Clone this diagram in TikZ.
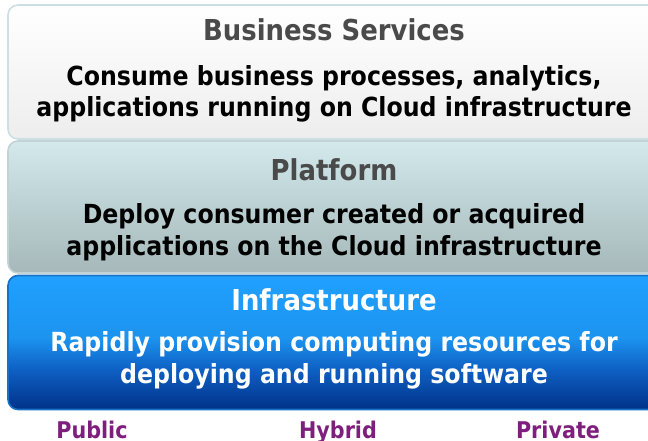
\documentclass[tikz,border=0pt]{standalone}
\usepackage{fontspec}
\setmainfont{DejaVu Sans}[FakeStretch=0.9]
\definecolor{headgray}{HTML}{4A4A4A}
\definecolor{labpurple}{HTML}{7E1F7E}
\definecolor{topedge}{HTML}{CCDFE2}
\definecolor{midedge}{HTML}{C2D3D5}
\definecolor{botedge}{HTML}{1672C4}
\pgfdeclareverticalshading{bizshade}{100bp}{color(0bp)=(white!93!black); color(25bp)=(white!93!black); color(75bp)=(white); color(100bp)=(white)}
\pgfdeclareverticalshading{platshade}{100bp}{color(0bp)=(rgb,255:red,166;green,184;blue,185); color(25bp)=(rgb,255:red,166;green,184;blue,185); color(60bp)=(rgb,255:red,196;green,218;blue,221); color(75bp)=(rgb,255:red,212;green,233;blue,236); color(100bp)=(rgb,255:red,212;green,233;blue,236)}
\pgfdeclareverticalshading{infshade}{100bp}{color(0bp)=(rgb,255:red,0;green,50;blue,136); color(25bp)=(rgb,255:red,0;green,50;blue,136); color(40bp)=(rgb,255:red,14;green,96;blue,196); color(52bp)=(rgb,255:red,28;green,148;blue,240); color(75bp)=(rgb,255:red,32;green,160;blue,255); color(100bp)=(rgb,255:red,32;green,160;blue,255)}
\tikzset{
  layer/.style={rounded corners=10pt, line width=1.6pt},
  headtxt/.style={font=\bfseries\fontsize{28.8}{32}\selectfont, inner sep=0pt, anchor=base},
  bodytxt/.style={font=\bfseries\fontsize{26.3}{31}\selectfont, inner sep=0pt, anchor=base},
  labtxt/.style={font=\bfseries\fontsize{23}{26}\selectfont, text=labpurple, inner sep=0pt, anchor=base}
}
\begin{document}
\begin{tikzpicture}[x=1pt,y=-1pt]
\useasboundingbox (0,0) rectangle (648,441);
\begin{scope}
\clip (0,0) rectangle (648,441);
% top layer
\draw[layer, draw=topedge, shading=bizshade] (8,5) rectangle (662,139);
% middle layer
\draw[layer, draw=midedge, shading=platshade] (8,141) rectangle (662,273);
% bottom layer
\draw[layer, draw=botedge, shading=infshade] (8,275.5) rectangle (662,409.5);
\end{scope}
\node[headtxt, text=headgray] (bizh) at (334,41) {Business Services};
\node[bodytxt, text=black] (biz1) at (334,86) {Consume business processes, analytics,};
\node[bodytxt, text=black] (biz2) at (334,117) {applications running on Cloud infrastructure};
\node[headtxt, text=headgray] (plath) at (334,181) {Platform};
\node[bodytxt, text=black] (plat1) at (334,223) {Deploy consumer created or acquired};
\node[bodytxt, text=black] (plat2) at (334,255) {applications on the Cloud infrastructure};
\node[headtxt, text=white] (infh) at (334,310) {Infrastructure};
\node[bodytxt, text=white] (inf1) at (334,351) {Rapidly provision computing resources for};
\node[bodytxt, text=white] (inf2) at (334,383) {deploying and running software};
\node[labtxt] (pub) at (92,438.5) {Public};
\node[labtxt] (hyb) at (338,438.5) {Hybrid};
\node[labtxt] (priv) at (558,438.5) {Private};
\end{tikzpicture}
\end{document}
